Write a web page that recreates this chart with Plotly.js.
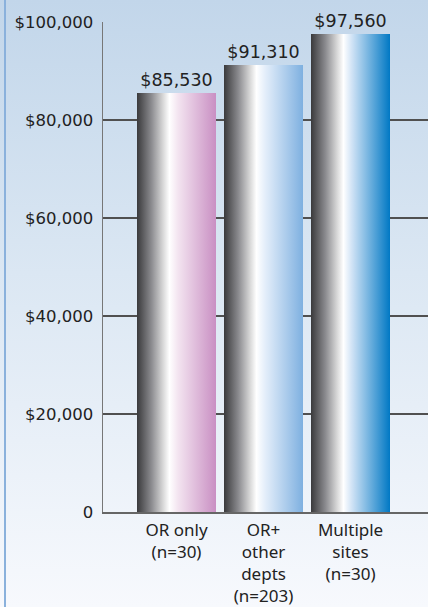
<!DOCTYPE html>
<html>
<head>
<meta charset="utf-8">
<script src="https://cdn.plot.ly/plotly-3.0.1.min.js"></script>
<style>
  html, body { margin: 0; padding: 0; }
  #wrap { position: relative; width: 428px; height: 607px;
    background: linear-gradient(to bottom, #c2d6ea 0%, #dbe7f3 45%, #f7f9fd 100%); }
  #edge { position: absolute; left: 4px; top: 0; width: 2px; height: 607px; background: #8ab1dc; }
  #chart { position: absolute; left: 0; top: 0; width: 428px; height: 607px; }
</style>
</head>
<body>
<div id="wrap"><div id="edge"></div><div id="chart"></div></div>
<script>
const categories = ["OR only<br>(n=30)", "OR+<br>other<br>depts<br>(n=203)", "Multiple<br>sites<br>(n=30)"];
const salaries = [85530, 91310, 97560];
const barLabels = ["$85,530", "$91,310", "$97,560"];
const tickValues = [0, 20000, 40000, 60000, 80000, 100000];
const tickLabels = ["0", "$20,000", "$40,000", "$60,000", "$80,000", "$100,000"];
const endColors = ["#c98fc3", "#7eb0e0", "#0078c4"];
const tintColors = ["#f3e4f0", "#e4eefa", "#cfe2f5"];

const NUMFONT = "DejaVu Sans, sans-serif";
const CATFONT = "Noto Sans, sans-serif";

const trace = {
  type: "bar",
  x: [0, 1, 2],
  y: salaries,
  width: 0.908,
  text: barLabels,
  textposition: "outside",
  cliponaxis: false,
  textfont: { family: NUMFONT, size: 17.5, color: "#222" },
  marker: { color: endColors, line: { width: 0 } },
  hoverinfo: "none"
};

const layout = {
  width: 428, height: 607,
  margin: { l: 103, r: 0, t: 22, b: 95 },
  paper_bgcolor: "rgba(0,0,0,0)",
  plot_bgcolor: "rgba(0,0,0,0)",
  showlegend: false,
  font: { family: NUMFONT, size: 16.5, color: "#222" },
  xaxis: {
    range: [-0.845, 2.89],
    tickvals: [0, 1, 2],
    ticktext: categories,
    showgrid: false, zeroline: false,
    showline: true, linecolor: "#666", linewidth: 1.5,
    ticks: "", ticklabelstandoff: 2,
    tickfont: { family: CATFONT, size: 17, color: "#222" },
    fixedrange: true
  },
  yaxis: {
    range: [0, 100000],
    tickvals: tickValues,
    ticktext: tickLabels,
    showgrid: true, gridcolor: "#505050", gridwidth: 1.5,
    zeroline: false,
    showline: true, linecolor: "#777", linewidth: 1.5,
    ticks: "", ticklabelstandoff: 5,
    tickfont: { family: NUMFONT, size: 16.5, color: "#222" },
    fixedrange: true
  },
  bargap: 0
};

Plotly.newPlot("chart", [trace], layout, { displayModeBar: false, staticPlot: true }).then(function (gd) {
  const svgNS = "http://www.w3.org/2000/svg";
  const svg = gd.querySelector(".main-svg");
  let defs = svg.querySelector("defs");
  if (!defs) { defs = document.createElementNS(svgNS, "defs"); svg.insertBefore(defs, svg.firstChild); }
  endColors.forEach(function (c, i) {
    const g = document.createElementNS(svgNS, "linearGradient");
    g.setAttribute("id", "barGrad" + i);
    g.setAttribute("x1", "0"); g.setAttribute("y1", "0");
    g.setAttribute("x2", "1"); g.setAttribute("y2", "0");
    const stops = [[0, "#3a3a3c"], [0.18, "#8a8a8e"], [0.33, "#d8d8d8"], [0.41, "#ffffff"], [0.52, tintColors[i]], [1, c]];
    stops.forEach(function (s) {
      const st = document.createElementNS(svgNS, "stop");
      st.setAttribute("offset", s[0]);
      st.setAttribute("stop-color", s[1]);
      g.appendChild(st);
    });
    defs.appendChild(g);
  });
  const paths = gd.querySelectorAll(".barlayer .point path");
  paths.forEach(function (p, i) {
    p.style.fill = "url(#barGrad" + i + ")";
  });
});
</script>
</body>
</html>
